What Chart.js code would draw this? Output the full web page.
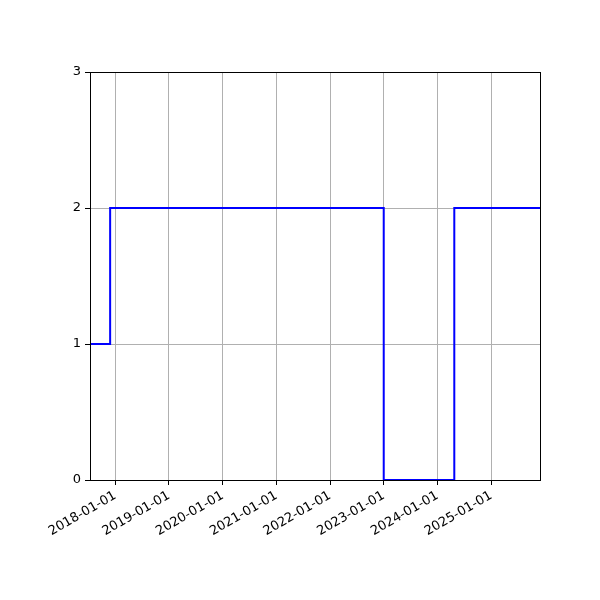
<!DOCTYPE html>
<html><head><meta charset="utf-8">
<script src="https://cdn.jsdelivr.net/npm/chart.js@4"></script>
<style>html,body{margin:0;padding:0;background:#fff}#c{display:block}</style>
</head><body>
<canvas id="c" width="600" height="600"></canvas>
<script>
const stepDates = ['2017-07-13', '2017-11-27', '2023-01-01', '2024-04-25', '2025-11-29'];
const stepValues = [1, 2, 0, 2, 2];
const xTickLabels = ['2018-01-01','2019-01-01','2020-01-01','2021-01-01','2022-01-01','2023-01-01','2024-01-01','2025-01-01'];
const yTickValues = [0, 1, 2, 3];
const xRange = ['2017-07-13', '2025-11-29'];

const ts = s => Date.parse(s + 'T00:00:00Z');
const pts = stepDates.map((d, i) => ({x: ts(d), y: stepValues[i]}));
const xTicks = xTickLabels.map(ts);
const fmt = v => new Date(v).toISOString().slice(0,10);

const frame = {
  id: 'frame',
  afterDatasetsDraw(chart) {
    const {ctx, chartArea: a} = chart;
    ctx.save();
    ctx.strokeStyle = '#000';
    ctx.lineWidth = 1;
    ctx.strokeRect(Math.round(a.left)+0.5, Math.round(a.top)+0.5, Math.round(a.right-a.left), Math.round(a.bottom-a.top));
    ctx.restore();
  }
};

new Chart(document.getElementById('c'), {
  type: 'line',
  data: { datasets: [{ data: pts, stepped: 'before', borderColor: '#0000ff', borderWidth: 2, pointRadius: 0, fill: false, tension: 0 }] },
  options: {
    responsive: false, animation: false, devicePixelRatio: 1,
    layout: { padding: { left: 0, top: 72, right: 60, bottom: 0 } },
    plugins: { legend: { display: false }, tooltip: { enabled: false } },
    scales: {
      x: {
        type: 'linear', min: ts(xRange[0]), max: ts(xRange[1]),
        afterBuildTicks: s => { s.ticks = xTicks.map(v => ({value: v})); },
        afterFit: s => { s.height = 120; },
        ticks: { autoSkip: false, maxRotation: 30, minRotation: 30, color: '#000', padding: 3,
                 font: { family: 'DejaVu Sans', size: 13 }, callback: v => fmt(v) },
        grid: { color: '#b0b0b0', lineWidth: 1, tickColor: '#000', tickLength: 5, drawOnChartArea: true },
        border: { display: false }
      },
      y: {
        min: 0, max: 3,
        afterBuildTicks: s => { s.ticks = yTickValues.map(v => ({value: v})); },
        afterFit: s => { s.width = 90; },
        ticks: { color: '#000', padding: 4, font: { family: 'DejaVu Sans', size: 13 } },
        grid: { color: '#b0b0b0', lineWidth: 1, tickColor: '#000', tickLength: 5 },
        border: { display: false }
      }
    }
  },
  plugins: [frame]
});
</script>
</body></html>
